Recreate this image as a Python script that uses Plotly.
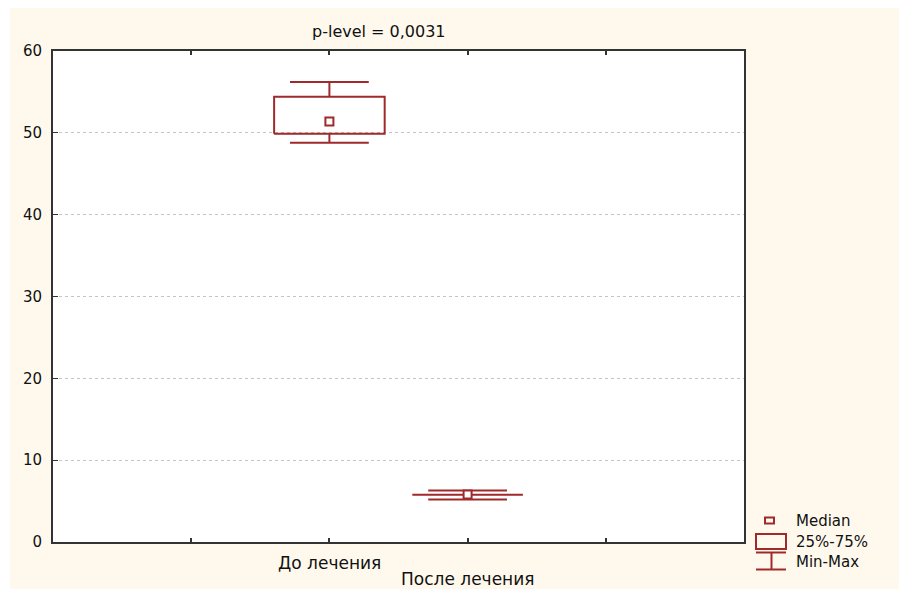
import plotly.graph_objects as go

# ---- data ----
categories = ["До лечения", "После лечения"]
cat_pos = [1, 2]
medians = [51.4, 5.8]
q1 = [49.9, 5.78]
q3 = [54.4, 5.82]
mins = [48.8, 5.2]
maxs = [56.2, 6.3]
y_ticks = [0, 10, 20, 30, 40, 50, 60]
title_text = "p-level = 0,0031"
legend_labels = ["Median", "25%-75%", "Min-Max"]

# ---- style ----
W, H = 899, 589
L, R, T, B = 53, 155, 51, 47
PW, PH = W - L - R, H - T - B
RED = "#9E2A2B"
CREAM = "#FFF9ED"
FONT = "DejaVu Sans, Liberation Sans, Arial, sans-serif"
BOX_HALF = 0.40
CAP_HALF = 0.285


def px(x):  # pixel x -> paper
    return (x - L) / PW


def py(y):  # pixel y -> paper
    return (H - B - y) / PH


fig = go.Figure()

# boxes (25%-75%)
bx, by = [], []
for c, a, b in zip(cat_pos, q1, q3):
    bx += [c - BOX_HALF, c + BOX_HALF, c + BOX_HALF, c - BOX_HALF, c - BOX_HALF, None]
    by += [a, a, b, b, a, None]
fig.add_trace(go.Scatter(x=bx, y=by, mode="lines", line=dict(color=RED, width=2),
                         hoverinfo="skip", showlegend=False))

# whiskers (Min-Max)
wx, wy = [], []
for c, a, b, lo, hi in zip(cat_pos, q1, q3, mins, maxs):
    wx += [c, c, None, c - CAP_HALF, c + CAP_HALF, None]
    wy += [b, hi, None, hi, hi, None]
    wx += [c, c, None, c - CAP_HALF, c + CAP_HALF, None]
    wy += [a, lo, None, lo, lo, None]
fig.add_trace(go.Scatter(x=wx, y=wy, mode="lines", line=dict(color=RED, width=2),
                         hoverinfo="skip", showlegend=False))

# medians
fig.add_trace(go.Scatter(x=cat_pos, y=medians, mode="markers",
                         marker=dict(symbol="square", size=8, color="white",
                                     line=dict(color=RED, width=2)),
                         showlegend=False))

shapes = [
    # white outer border strips (top and left)
    dict(type="rect", xref="paper", yref="paper", x0=px(-5), x1=px(W + 5), y0=py(8), y1=py(-5),
         fillcolor="white", line=dict(width=0), layer="below"),
    dict(type="rect", xref="paper", yref="paper", x0=px(-5), x1=px(10), y0=py(H + 5), y1=py(-5),
         fillcolor="white", line=dict(width=0), layer="below"),
    # legend glyphs
    dict(type="rect", xref="paper", yref="paper", x0=px(765), x1=px(774), y0=py(523.5), y1=py(517.5),
         fillcolor="rgba(0,0,0,0)", line=dict(color=RED, width=2)),
    dict(type="rect", xref="paper", yref="paper", x0=px(756), x1=px(786), y0=py(549), y1=py(534),
         fillcolor="rgba(0,0,0,0)", line=dict(color=RED, width=2)),
    dict(type="line", xref="paper", yref="paper", x0=px(756), x1=px(786), y0=py(552.5), y1=py(552.5),
         line=dict(color=RED, width=2)),
    dict(type="line", xref="paper", yref="paper", x0=px(771.5), x1=px(771.5), y0=py(552.5), y1=py(569.5),
         line=dict(color=RED, width=2)),
    dict(type="line", xref="paper", yref="paper", x0=px(756), x1=px(786), y0=py(569.5), y1=py(569.5),
         line=dict(color=RED, width=2)),
]

annotations = [
    dict(text=title_text, xref="paper", yref="paper", x=px(379), y=py(31),
         xanchor="center", yanchor="middle", showarrow=False,
         font=dict(family=FONT, size=16, color="#111")),
]
for lab, yc in zip(legend_labels, [520.5, 541.5, 561.5]):
    annotations.append(dict(text=lab, xref="paper", yref="paper", x=px(794), y=py(yc),
                            xanchor="left", yanchor="middle", showarrow=False,
                            font=dict(family=FONT, size=15, color="#111")))
# category labels, staggered on two rows
for c, lab, yc in zip(cat_pos, categories, [563, 579]):
    annotations.append(dict(text=lab, xref="x", yref="paper", x=c, y=py(yc),
                            xanchor="center", yanchor="middle", showarrow=False,
                            font=dict(family=FONT, size=17, color="#111")))

fig.update_layout(
    width=W, height=H,
    margin=dict(l=L, r=R, t=T, b=B),
    paper_bgcolor=CREAM,
    plot_bgcolor="white",
    showlegend=False,
    hovermode=False,
    shapes=shapes,
    annotations=annotations,
    font=dict(family=FONT, size=15, color="#111"),
    xaxis=dict(range=[-1, 4], tickvals=[0, 1, 2, 3], showticklabels=False,
               ticks="inside", ticklen=4, tickwidth=2, tickcolor="#333",
               showline=True, linewidth=2, linecolor="#333", mirror="ticks",
               showgrid=False, zeroline=False),
    yaxis=dict(range=[0, 60], tickvals=y_ticks,
               ticks="inside", ticklen=5, tickwidth=1, tickcolor="#333",
               showline=True, linewidth=2, linecolor="#333", mirror=True,
               showgrid=True, gridcolor="#C4C4C4", griddash="dot", gridwidth=1,
               zeroline=False, ticklabelstandoff=6,
               tickfont=dict(family=FONT, size=15, color="#111")),
)

fig.write_html(
    "out.html",
    config={"displayModeBar": False},
    post_script=(
        "document.body.style.margin='0';"
        "document.body.style.overflow='hidden';"
        "document.body.style.background='" + CREAM + "';"
        "document.documentElement.style.overflow='hidden';"
        "document.documentElement.style.background='" + CREAM + "';"
    ),
)
